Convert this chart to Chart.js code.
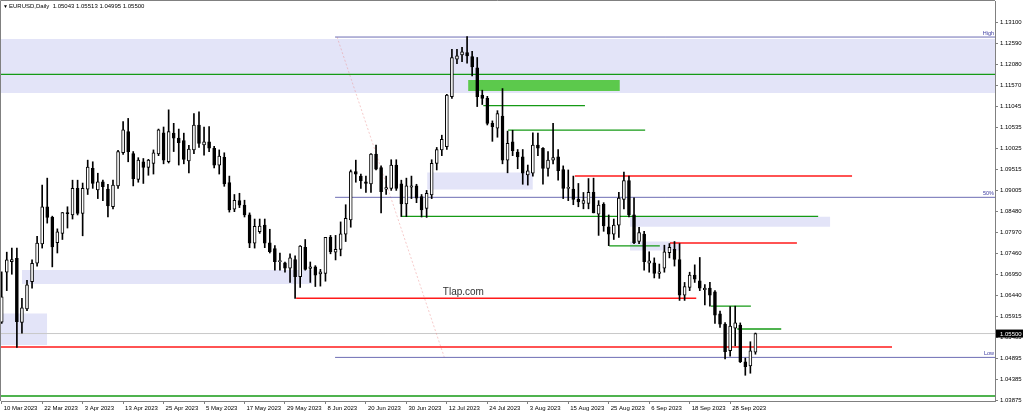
<!DOCTYPE html>
<html>
<head>
<meta charset="utf-8">
<script src="https://cdn.jsdelivr.net/npm/chart.js@4.4.0/dist/chart.umd.min.js"></script>
<style>
  html, body { margin: 0; padding: 0; background: #fff; }
  canvas { display: block; }
</style>
</head>
<body>
<canvas id="chart" width="1024" height="414"></canvas>
<script>
// EURUSD daily, 10 Mar 2023 .. 5 Oct 2023 (bar index 0..149)
const opens = [
  1.0578, 1.0700, 1.0726, 1.0734, 1.0577, 1.0610, 1.0677, 1.0722, 1.0769, 1.0860,
  1.0834, 1.0772, 1.0795, 1.0846, 1.0840, 1.0905, 1.0844, 1.0903, 1.0954, 1.0901,
  1.0921, 1.0903, 1.0860, 1.0911, 1.0992, 1.1044, 1.0990, 1.0927, 1.0970, 1.0956,
  1.0966, 1.0989, 1.1041, 1.0970, 1.1040, 1.1028, 1.1022, 1.0972, 1.0999, 1.1060,
  1.1011, 1.1019, 1.1003, 1.0962, 1.0981, 1.0919, 1.0854, 1.0875, 1.0864, 1.0840,
  1.0771, 1.0799, 1.0815, 1.0772, 1.0758, 1.0726, 1.0723, 1.0710, 1.0731, 1.0689,
  1.0761, 1.0709, 1.0713, 1.0696, 1.0697, 1.0785, 1.0749, 1.0756, 1.0793, 1.0828,
  1.0946, 1.0935, 1.0921, 1.0916, 1.0989, 1.0956, 1.0903, 1.0905, 1.0962, 1.0916,
  1.0867, 1.0908, 1.0911, 1.0885, 1.0856, 1.0889, 1.0966, 1.0999, 1.1007, 1.1129,
  1.1221, 1.1231, 1.1237, 1.1227, 1.1200, 1.1133, 1.1125, 1.1064, 1.1052, 1.1082,
  1.0974, 1.1019, 1.0994, 1.0982, 1.0938, 1.0942, 1.1011, 1.1003, 1.0954, 1.0974,
  1.0982, 1.0951, 1.0905, 1.0903, 1.0878, 1.0868, 1.0868, 1.0895, 1.0842, 1.0866,
  1.0811, 1.0793, 1.0815, 1.0878, 1.0924, 1.0840, 1.0775, 1.0793, 1.0722, 1.0723,
  1.0697, 1.0710, 1.0748, 1.0756, 1.0731, 1.0644, 1.0663, 1.0693, 1.0679, 1.0657,
  1.0661, 1.0652, 1.0598, 1.0573, 1.0508, 1.0563, 1.0571, 1.0481, 1.0471, 1.05043
];
const highs = [
  1.0701, 1.0749, 1.0759, 1.0759, 1.0636, 1.0680, 1.0730, 1.0788, 1.0913, 1.0930,
  1.0837, 1.0806, 1.0846, 1.0860, 1.0925, 1.0925, 1.0918, 1.0974, 1.0970, 1.0942,
  1.0925, 1.0915, 1.0925, 1.0998, 1.1068, 1.1076, 1.0995, 1.0980, 1.0978, 1.0976,
  1.0999, 1.1050, 1.1055, 1.1097, 1.1064, 1.1050, 1.1040, 1.1010, 1.1088, 1.1092,
  1.1055, 1.1056, 1.1008, 1.0999, 1.0992, 1.0935, 1.0890, 1.0893, 1.0876, 1.0845,
  1.0830, 1.0830, 1.0830, 1.0805, 1.0765, 1.0747, 1.0725, 1.0745, 1.0740, 1.0765,
  1.0780, 1.0725, 1.0716, 1.0707, 1.0785, 1.0790, 1.0790, 1.0823, 1.0865, 1.0950,
  1.0974, 1.0940, 1.0935, 1.0990, 1.1011, 1.0960, 1.0935, 1.0975, 1.0975, 1.0925,
  1.0930, 1.0935, 1.0915, 1.0890, 1.0900, 1.0975, 1.1005, 1.1035, 1.1135, 1.1245,
  1.1245, 1.1250, 1.1276, 1.1240, 1.1225, 1.1145, 1.1130, 1.1070, 1.1095, 1.1149,
  1.1045, 1.1047, 1.1000, 1.1000, 1.0962, 1.1041, 1.1040, 1.1005, 1.0995, 1.1064,
  1.1000, 1.0960, 1.0950, 1.0935, 1.0917, 1.0895, 1.0929, 1.0930, 1.0875, 1.0870,
  1.0840, 1.0830, 1.0895, 1.0945, 1.0935, 1.0882, 1.0810, 1.0800, 1.0750, 1.0735,
  1.0720, 1.0766, 1.0770, 1.0775, 1.0770, 1.0675, 1.0700, 1.0718, 1.0736, 1.0670,
  1.0675, 1.0655, 1.0605, 1.0577, 1.0616, 1.0617, 1.0576, 1.0490, 1.0530, 1.05513
];
const lows = [
  1.0575, 1.0655, 1.0695, 1.0516, 1.0551, 1.0606, 1.0661, 1.0715, 1.0759, 1.0820,
  1.0713, 1.0747, 1.0780, 1.0808, 1.0830, 1.0840, 1.0789, 1.0890, 1.0905, 1.0880,
  1.0875, 1.0835, 1.0855, 1.0905, 1.0988, 1.0970, 1.0911, 1.0920, 1.0917, 1.0937,
  1.0940, 1.0985, 1.0965, 1.0967, 1.0995, 1.0962, 1.0965, 1.0943, 1.0990, 1.1005,
  1.0986, 1.0995, 1.0955, 1.0940, 1.0910, 1.0847, 1.0848, 1.0858, 1.0835, 1.0760,
  1.0759, 1.0795, 1.0760, 1.0747, 1.0705, 1.0705, 1.0700, 1.0675, 1.0636, 1.0663,
  1.0705, 1.0675, 1.0665, 1.0666, 1.0678, 1.0745, 1.0730, 1.0740, 1.0775, 1.0810,
  1.0920, 1.0905, 1.0895, 1.0895, 1.0950, 1.0845, 1.0890, 1.0900, 1.0900, 1.0836,
  1.0836, 1.0880, 1.0870, 1.0835, 1.0834, 1.0880, 1.0950, 1.0985, 1.1000, 1.1125,
  1.1210, 1.1215, 1.1211, 1.1180, 1.1105, 1.1110, 1.1060, 1.1020, 1.1030, 1.0965,
  1.0943, 1.0985, 1.0953, 1.0915, 1.0913, 1.0935, 1.0985, 1.0915, 1.0935, 1.0965,
  1.0925, 1.0880, 1.0875, 1.0865, 1.0860, 1.0855, 1.0855, 1.0845, 1.0790, 1.0800,
  1.0765, 1.0780, 1.0785, 1.0855, 1.0835, 1.0770, 1.0770, 1.0705, 1.0700, 1.0686,
  1.0685, 1.0700, 1.0735, 1.0715, 1.0631, 1.0631, 1.0655, 1.0675, 1.0655, 1.0620,
  1.0617, 1.0575, 1.0565, 1.0488, 1.0495, 1.0520, 1.0479, 1.0448, 1.0453, 1.04995
];
const closes = [
  1.0640, 1.0730, 1.0731, 1.0579, 1.0613, 1.0669, 1.0722, 1.0771, 1.0860, 1.0834,
  1.0762, 1.0799, 1.0846, 1.0843, 1.0905, 1.0844, 1.0905, 1.0957, 1.0917, 1.0921,
  1.0909, 1.0862, 1.0913, 1.0995, 1.1048, 1.0995, 1.0929, 1.0974, 1.0956, 1.0974,
  1.0992, 1.1048, 1.0974, 1.1044, 1.1028, 1.1017, 1.0976, 1.1001, 1.1060, 1.1015,
  1.1019, 1.1003, 1.0962, 1.0984, 1.0916, 1.0852, 1.0876, 1.0864, 1.0840, 1.0771,
  1.0812, 1.0813, 1.0771, 1.0750, 1.0726, 1.0727, 1.0710, 1.0735, 1.0689, 1.0764,
  1.0707, 1.0713, 1.0693, 1.0701, 1.0785, 1.0750, 1.0756, 1.0794, 1.0832, 1.0946,
  1.0940, 1.0924, 1.0917, 1.0989, 1.0952, 1.0897, 1.0907, 1.0962, 1.0905, 1.0867,
  1.0911, 1.0911, 1.0881, 1.0852, 1.0893, 1.0966, 1.1000, 1.1025, 1.1133, 1.1225,
  1.1229, 1.1239, 1.1229, 1.1202, 1.1129, 1.1125, 1.1064, 1.1056, 1.1088, 1.0974,
  1.1015, 1.0997, 1.0982, 1.0942, 1.0948, 1.1011, 1.1003, 1.0954, 1.0974, 1.0980,
  1.0948, 1.0905, 1.0906, 1.0878, 1.0872, 1.0875, 1.0895, 1.0845, 1.0864, 1.0813,
  1.0793, 1.0815, 1.0881, 1.0924, 1.0840, 1.0772, 1.0797, 1.0726, 1.0728, 1.0697,
  1.0701, 1.0750, 1.0761, 1.0731, 1.0644, 1.0665, 1.0693, 1.0683, 1.0661, 1.0661,
  1.0644, 1.0595, 1.0573, 1.0506, 1.0568, 1.0576, 1.0481, 1.0469, 1.0508, 1.05500
];

// date axis: bar index of each label
const dateTickIdx = [0, 8, 16, 24, 32, 40, 48, 56, 64, 72, 80, 88, 96, 104, 112, 120, 128, 136, 144];
const dateTickLabels = [
  "10 Mar 2023", "22 Mar 2023", "3 Apr 2023", "13 Apr 2023", "25 Apr 2023",
  "5 May 2023", "17 May 2023", "29 May 2023", "8 Jun 2023", "20 Jun 2023",
  "30 Jun 2023", "12 Jul 2023", "24 Jul 2023", "3 Aug 2023", "15 Aug 2023",
  "25 Aug 2023", "6 Sep 2023", "18 Sep 2023", "28 Sep 2023"
];
const priceTicks = [
  1.13100, 1.12590, 1.12080, 1.11570, 1.11045, 1.10535, 1.10025, 1.09515, 1.09005,
  1.08480, 1.07970, 1.07460, 1.06950, 1.06440, 1.05915, 1.05405, 1.04895, 1.04385, 1.03875
];

const X_MIN = -0.14, X_MAX = 196.36;
const Y_MIN = 1.03851, Y_MAX = 1.13631;

// drawn objects: [price, fromIdx, toIdx]
const greenLevels = [
  [1.11838, X_MIN, X_MAX], [1.11071, 95.2, 115.3], [1.10476, 100.1, 127.2],
  [1.08367, 79.1, 161.4], [1.07645, 120.1, 130.1], [1.06173, 140.2, 148.1],
  [1.05611, 145.4, 154.1], [1.03973, X_MIN, X_MAX]
];
const redLevels = [
  [1.09352, 113.3, 168.1], [1.07714, 132.1, 157.2], [1.06362, 58.2, 137.3], [1.05171, X_MIN, 176.0]
];
// fibo levels: [price, label]
const fiboLevels = [[1.12750, "High"], [1.08831, "50%"], [1.04917, "Low"]];
const fiboStartIdx = 65.9;
const fiboDiagonal = [[66.3, 1.12750], [87.5, 1.04917]];
// zones: [top, bottom, fromIdx, toIdx]
const lavenderZones = [
  [1.12701, 1.11381, X_MIN, X_MAX], [1.09435, 1.09025, 84.1, 105.0],
  [1.08357, 1.08113, 124.2, 163.8], [1.07749, 1.07529, 124.2, 134.1],
  [1.07054, 1.06712, 4.0, 61.4], [1.05989, 1.05219, X_MIN, 9.0]
];
const greenZones = [[1.11700, 1.11431, 92.2, 122.2]];
const currentPrice = 1.05500;
const watermark = { text: "Tlap.com", idx: 87.2, price: 1.06518 };

const FONT = '"Liberation Sans", Arial, sans-serif';
const NARROW = '"Liberation Sans Narrow", "Arial Narrow", "Liberation Sans", Arial, sans-serif';

function levelSet(levels, color, width, order) {
  return levels.map(([p, a, b]) => ({
    type: "line",
    data: [{ x: a, y: p }, { x: b, y: p }],
    borderColor: color,
    borderWidth: width,
    pointRadius: 0,
    fill: false,
    order,
  }));
}

function zoneSet(zones, color, order) {
  return zones.map(([top, bottom, a, b]) => ({
    type: "line",
    data: [{ x: a, y: top }, { x: b, y: top }],
    borderColor: "rgba(0,0,0,0)",
    borderWidth: 1,
    backgroundColor: color,
    pointRadius: 0,
    fill: { value: bottom },
    order,
  }));
}

// scales must not reserve extra room for their end labels
function noPad(s) {
  s.paddingTop = 0;
  s.paddingBottom = 0;
  s.paddingLeft = 0;
  s.paddingRight = 0;
}

const idx = closes.map((_, i) => i);

const datasets = [
  ...zoneSet(lavenderZones, "#e3e4f8", 20),
  ...zoneSet(greenZones, "#5cc94c", 19),
  ...levelSet(fiboLevels.map(([p]) => [p, fiboStartIdx, X_MAX]), "#6d6db4", 1, 10),
  {
    type: "line",
    data: fiboDiagonal.map(([x, y]) => ({ x, y })),
    borderColor: "rgba(235,140,140,0.45)",
    borderWidth: 1,
    borderDash: [2, 2],
    pointRadius: 0,
    fill: false,
    order: 11,
  },
  {
    type: "line",
    data: [{ x: X_MIN, y: currentPrice }, { x: X_MAX, y: currentPrice }],
    borderColor: "#c8c8c8",
    borderWidth: 1,
    pointRadius: 0,
    fill: false,
    order: 12,
  },
  ...levelSet(greenLevels, "#159a15", 1.3, 8),
  ...levelSet(redLevels, "#ff1a1a", 1.4, 8),
  {
    type: "bar",
    data: idx.map((i) => ({ x: i, y: [lows[i], highs[i]] })),
    backgroundColor: "#000",
    barThickness: 1,
    grouped: false,
    order: 2,
  },
  {
    type: "bar",
    data: idx.map((i) => ({ x: i, y: [opens[i], closes[i]] })),
    backgroundColor: (c) => (closes[c.dataIndex] >= opens[c.dataIndex] ? "#fff" : "#000"),
    borderColor: "#000",
    borderWidth: 1,
    borderSkipped: false,
    barThickness: 3,
    minBarLength: 1,
    grouped: false,
    order: 1,
  },
];

const overlayText = {
  id: "overlayText",
  afterDraw(chart) {
    const { ctx, chartArea: a, scales: { x, y } } = chart;
    ctx.save();
    // frame
    ctx.strokeStyle = "#808080";
    ctx.lineWidth = 1;
    ctx.beginPath();
    ctx.moveTo(a.left - 0.5, a.bottom);
    ctx.lineTo(a.left - 0.5, a.top - 0.5);
    ctx.lineTo(a.right, a.top - 0.5);
    ctx.stroke();

    // header
    const last = closes.length - 1;
    const header = "EURUSD,Daily  " + [opens[last], highs[last], lows[last], closes[last]]
      .map((v) => v.toFixed(5)).join(" ");
    ctx.fillStyle = "#000";
    ctx.textBaseline = "middle";
    ctx.textAlign = "left";
    ctx.font = "5px " + FONT;
    ctx.fillText("▼", a.left + 2, 6.5);
    ctx.font = "6px " + FONT;
    ctx.fillText(header, a.left + 8, 6.5);

    // watermark
    ctx.font = "10px " + FONT;
    ctx.fillStyle = "#333";
    ctx.fillText(watermark.text, x.getPixelForValue(watermark.idx), y.getPixelForValue(watermark.price));

    // fibo labels
    ctx.font = "5.5px " + FONT;
    ctx.fillStyle = "#3a3aa0";
    ctx.textAlign = "right";
    ctx.textBaseline = "bottom";
    fiboLevels.forEach(([p, label]) => {
      ctx.fillText(label, a.right - 1, y.getPixelForValue(p) - 1);
    });

    // current price box
    const py = y.getPixelForValue(currentPrice);
    ctx.fillStyle = "#000";
    ctx.fillRect(a.right + 1, py - 4, 27, 8);
    ctx.fillStyle = "#fff";
    ctx.font = "6px " + FONT;
    ctx.textAlign = "left";
    ctx.textBaseline = "middle";
    ctx.fillText(currentPrice.toFixed(5), a.right + 5, py + 0.5);
    ctx.restore();
  },
};

new Chart(document.getElementById("chart"), {
  type: "bar",
  data: { datasets },
  options: {
    responsive: false,
    devicePixelRatio: 1,
    animation: false,
    events: [],
    layout: { autoPadding: false, padding: { left: 1, top: 1, right: 0, bottom: 0 } },
    plugins: { legend: { display: false }, tooltip: { enabled: false } },
    scales: {
      x: {
        type: "linear",
        min: X_MIN,
        max: X_MAX,
        offset: false,
        afterFit: (s) => { s.height = 13; noPad(s); },
        afterBuildTicks: (s) => { s.ticks = dateTickIdx.map((v) => ({ value: v })); },
        ticks: {
          autoSkip: false,
          maxRotation: 0,
          align: "start",
          labelOffset: 2,
          padding: 1,
          color: "#000",
          font: { family: NARROW, size: 6 },
          callback: (v) => dateTickLabels[dateTickIdx.indexOf(v)],
        },
        grid: { offset: false, drawOnChartArea: false, drawTicks: true, tickLength: 3, color: "#808080" },
        border: { display: true, color: "#808080" },
      },
      y: {
        position: "right",
        min: Y_MIN,
        max: Y_MAX,
        afterFit: (s) => { s.width = 29; noPad(s); },
        afterBuildTicks: (s) => { s.ticks = priceTicks.map((v) => ({ value: v })); },
        ticks: {
          autoSkip: false,
          padding: 2,
          color: "#000",
          font: { family: FONT, size: 6 },
          callback: (v) => v.toFixed(5),
        },
        grid: { drawOnChartArea: false, drawTicks: true, tickLength: 3, color: "#808080" },
        border: { display: true, color: "#808080" },
      },
    },
  },
  plugins: [overlayText],
});
</script>
</body>
</html>
